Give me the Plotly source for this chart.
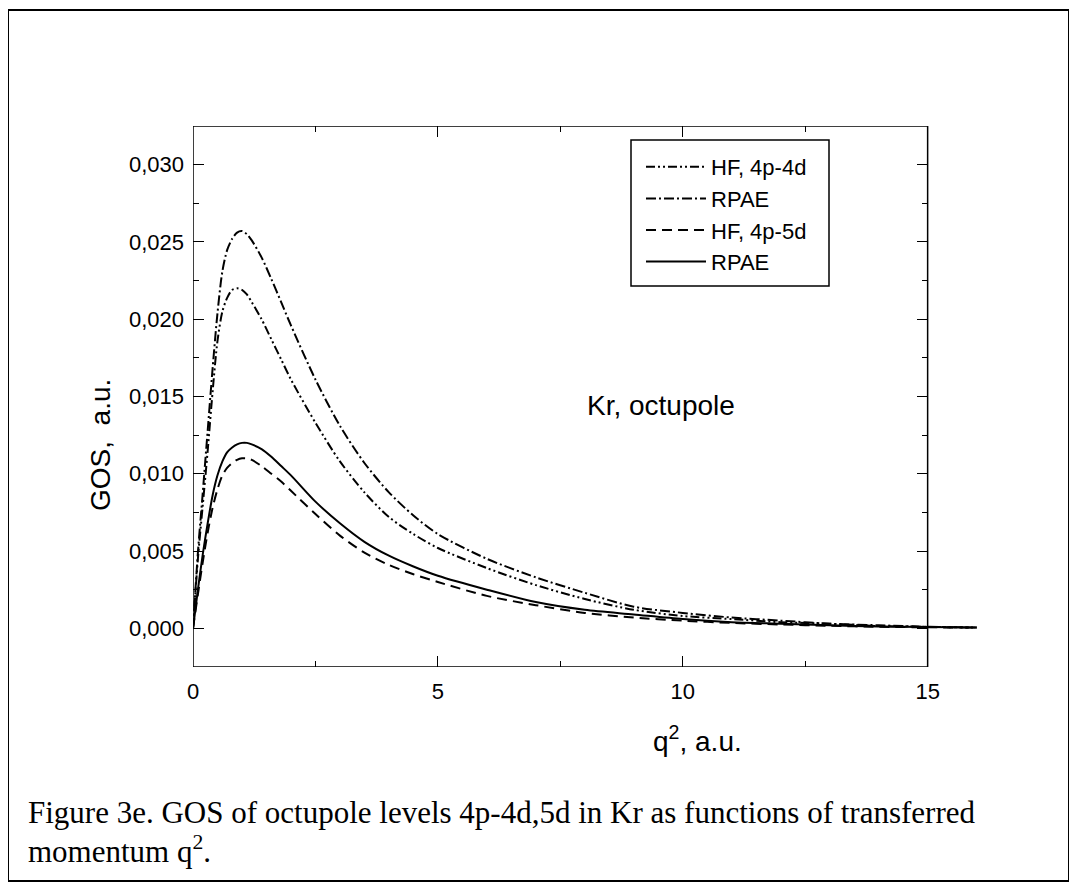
import plotly.graph_objects as go

# transferred momentum q^2 (a.u.)
q2 = [0, 0.1, 0.2, 0.3, 0.4, 0.5, 0.6, 0.7, 0.8, 0.9, 1.0, 1.1, 1.2, 1.4, 1.6, 1.8,
      2.0, 2.5, 3.0, 3.5, 4.0, 4.5, 5, 6, 7, 8, 9, 10, 11, 12, 13, 14, 15, 16]

hf_4d = [0, 0.0045, 0.0080, 0.0115, 0.0153, 0.0186, 0.0205, 0.0214, 0.0219, 0.0220,
         0.0219, 0.0216, 0.0211, 0.0200, 0.0187, 0.0174, 0.0161, 0.0133, 0.0108,
         0.0088, 0.0072, 0.0061, 0.0052, 0.0039, 0.0028, 0.0019, 0.0012, 0.0008,
         0.0006, 0.0004, 0.0003, 0.00015, 0.0001, 0.00005]

rpae_4d = [0, 0.0049, 0.0088, 0.0128, 0.0168, 0.0204, 0.0231, 0.0245, 0.0252, 0.0256,
           0.0257, 0.0255, 0.0251, 0.0240, 0.0226, 0.0211, 0.0196, 0.0161, 0.0131,
           0.0107, 0.0088, 0.0073, 0.0061, 0.0045, 0.0033, 0.0023, 0.0014, 0.0010,
           0.0007, 0.0005, 0.0003, 0.0002, 0.0001, 0.00005]

hf_5d = [0, 0.0022, 0.0043, 0.0062, 0.0078, 0.0090, 0.0099, 0.0104, 0.0107, 0.0109,
         0.0110, 0.0110, 0.0109, 0.0105, 0.0100, 0.0095, 0.0089, 0.0074, 0.0060,
         0.0049, 0.0041, 0.0035, 0.0030, 0.0021, 0.0015, 0.0010, 0.0007, 0.0005,
         0.00035, 0.00025, 0.00017, 0.0001, 0.00007, 0.00005]

rpae_5d = [0, 0.0025, 0.0048, 0.0068, 0.0086, 0.0099, 0.0108, 0.0114, 0.0117, 0.0119,
           0.0120, 0.0120, 0.0119, 0.0116, 0.0111, 0.0105, 0.0099, 0.0082, 0.0068,
           0.0056, 0.0047, 0.0040, 0.0034, 0.0025, 0.0017, 0.0012, 0.0009, 0.0006,
           0.0004, 0.0003, 0.0002, 0.00012, 0.00008, 0.00005]

series_names = ["HF, 4p-4d", "RPAE", "HF, 4p-5d", "RPAE"]
series_values = [hf_4d, rpae_4d, hf_5d, rpae_5d]
series_dash = ["9px,3px,2px,3px,2px,3px", "10px,3px,2px,3px", "10px,6px", "solid"]

x_major = [0, 5, 10, 15]
x_minor = [2.5, 7.5, 12.5]
x_frame_end = 15
y_range = [-0.0025, 0.0325]

# page body has an 8px margin; figure sized to fit the window
OFF = 8
W, H = 1077 - OFF, 890 - 2 * OFF
ML, MT = 193 - OFF, 126 - OFF
plot_right, plot_bottom = 982 - OFF, 667 - OFF
MR, MB = W - plot_right, H - plot_bottom
x_range = [0, 16.11]

fig = go.Figure()
for name, vals, dash in zip(series_names, series_values, series_dash):
    fig.add_trace(go.Scatter(
        x=q2, y=vals, mode="lines", name=name,
        line=dict(color="black", width=2, dash=dash, shape="spline", smoothing=0.8),
    ))

# empty trace so the right-hand tick axis (at q^2 = 15) is always drawn
fig.add_trace(go.Scatter(x=[], y=[], yaxis="y2", showlegend=False, hoverinfo="skip"))

pw = W - ML - MR
ph = H - MT - MB


def px_x(px):
    """page pixel x -> paper fraction"""
    return (px - OFF - ML) / pw


def px_y(py):
    """page pixel y -> paper fraction"""
    return 1 - (py - OFF - MT) / ph


font_sans = "Liberation Sans, Arial, sans-serif"
tick_common = dict(ticks="inside", ticklen=11, tickwidth=1.2, tickcolor="black")
minor_common = dict(ticks="inside", ticklen=6, tickwidth=1.2, tickcolor="black", showgrid=False)

fig.update_layout(
    width=W, height=H, autosize=False,
    margin=dict(l=ML, r=MR, t=MT, b=MB, pad=0),
    paper_bgcolor="white", plot_bgcolor="white",
    separators=",.",
    font=dict(family=font_sans, size=22, color="black"),
    showlegend=True,
    legend=dict(
        x=px_x(641), y=px_y(146), xanchor="left", yanchor="top",
        bgcolor="rgba(0,0,0,0)", borderwidth=0,
        font=dict(family=font_sans, size=22, color="black"),
        itemwidth=60, tracegroupgap=0,
    ),
    xaxis=dict(
        range=x_range, showgrid=False, zeroline=False, showline=False,
        tickvals=x_major, ticktext=[str(v) for v in x_major],
        mirror="ticks", ticklabelstandoff=9,
        minor=dict(tickvals=x_minor, **minor_common),
        tickfont=dict(size=22), **tick_common,
    ),
    yaxis=dict(
        range=y_range, showgrid=False, zeroline=False, showline=False,
        tick0=0, dtick=0.005, tickformat=".3f", ticklabelstandoff=8,
        minor=dict(dtick=0.0025, tick0=0, **minor_common),
        tickfont=dict(size=22), **tick_common,
    ),
    yaxis2=dict(
        range=y_range, overlaying="y", anchor="free",
        position=x_frame_end / x_range[1], side="right",
        showgrid=False, zeroline=False, showline=False, showticklabels=False,
        tick0=0, dtick=0.005,
        minor=dict(dtick=0.0025, tick0=0, **minor_common), **tick_common,
    ),
)

# plot frame (axes box), ending at q^2 = 15
fig.add_shape(type="rect", xref="x", yref="y",
              x0=0, x1=x_frame_end, y0=y_range[0], y1=y_range[1],
              line=dict(color="black", width=1.5), layer="above")

# legend frame
fig.add_shape(type="rect", xref="paper", yref="paper",
              x0=px_x(631), x1=px_x(829), y0=px_y(286), y1=px_y(140),
              line=dict(color="black", width=1.5))

# outer figure border
fig.add_shape(type="rect", xref="paper", yref="paper",
              x0=px_x(8), x1=px_x(1069), y0=px_y(881), y1=px_y(10),
              line=dict(color="black", width=2))

fig.add_annotation(text="Kr, octupole", xref="x", yref="y", x=9.55, y=0.0144,
                   xanchor="center", yanchor="middle",
                   showarrow=False, font=dict(family=font_sans, size=28))

fig.add_annotation(text="q<sup>2</sup>, a.u.", xref="paper", yref="paper",
                   x=px_x(697), y=px_y(739), xanchor="center", yanchor="middle",
                   showarrow=False, font=dict(family=font_sans, size=28))

fig.add_annotation(text="GOS,\u00a0 a.u.", xref="paper", yref="paper",
                   x=px_x(100), y=px_y(445), textangle=-90,
                   xanchor="center", yanchor="middle", showarrow=False,
                   font=dict(family=font_sans, size=28))

caption_font = dict(family="Liberation Serif, Times New Roman, serif", size=31)
fig.add_annotation(
    text="Figure 3e. GOS of octupole levels 4p-4d,5d in Kr as functions of transferred",
    xref="paper", yref="paper", x=px_x(26), y=px_y(812),
    xanchor="left", yanchor="middle", align="left", showarrow=False, font=caption_font)
fig.add_annotation(
    text="momentum q<sup>2</sup>.",
    xref="paper", yref="paper", x=px_x(26), y=px_y(849),
    xanchor="left", yanchor="middle", align="left", showarrow=False, font=caption_font)

fig.write_html("out.html")
